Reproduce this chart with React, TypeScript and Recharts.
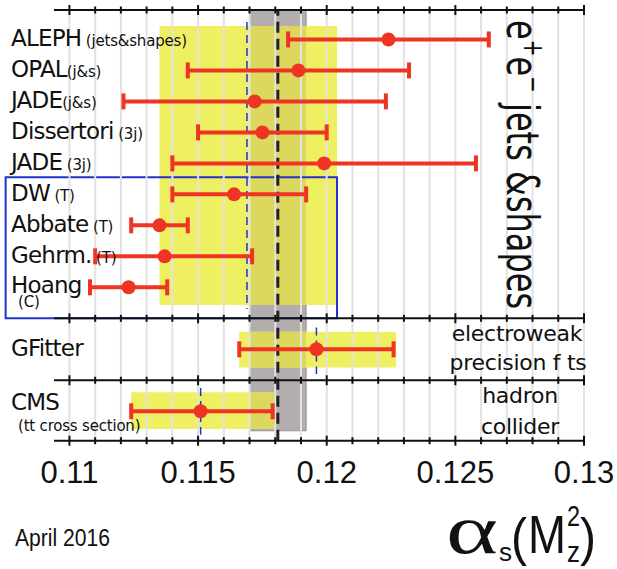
import { ScatterChart, Scatter, XAxis, YAxis, ErrorBar, ReferenceArea, ReferenceLine } from "recharts";

// alpha_s(Mz^2) determinations
const NAMES = ["ALEPH", "OPAL", "JADE", "Dissertori", "JADE", "DW", "Abbate", "Gehrm.", "Hoang", "GFitter", "CMS"];
const TAGS = [" (jets&shapes)", "(j&s)", "(j&s)", " (3j)", " (3j)", " (T)", " (T)", " (T)", "(C)", "", "(tt cross section)"];
const CENTRAL = [0.1224, 0.1189, 0.1172, 0.1175, 0.1199, 0.1164, 0.1135, 0.1137, 0.1123, 0.1196, 0.1151];
const LOW = [0.1185, 0.1146, 0.1121, 0.115, 0.114, 0.114, 0.1124, 0.111, 0.1108, 0.1166, 0.1124];
const HIGH = [0.1263, 0.1232, 0.1223, 0.12, 0.1258, 0.1192, 0.1146, 0.1171, 0.1138, 0.1226, 0.1179];
const ROWS = [1, 2, 3, 4, 5, 6, 7, 8, 9, 11, 13];

// world average band
const WORLD_AVG = 0.1181;
const WORLD_ERR = 0.0011;

// per-category averages: e+e- jets&shapes, electroweak fits, hadron collider
const GROUP_LOW = [0.1135, 0.1166, 0.1124];
const GROUP_HIGH = [0.1204, 0.1227, 0.118];
const GROUP_REF = [0.1169, 0.1196, 0.1151];

const MAJOR_TICKS = [0.11, 0.115, 0.12, 0.125, 0.13];
const ALL_TICKS = [
  0.11, 0.111, 0.112, 0.113, 0.114, 0.115, 0.116, 0.117, 0.118, 0.119, 0.12,
  0.121, 0.122, 0.123, 0.124, 0.125, 0.126, 0.127, 0.128, 0.129, 0.13,
];

const RED = "#ee3424";
const YELLOW = "#eef061";
const GREY = "#b3adad";
const OVERLAP = "#dbd85d";
const BLUE = "#2233cc";

// row extents of the three panels (layout)
const BAND_Y: [number, number][] = [[0.57, 9.57], [10.43, 11.59], [12.39, 13.57]];
const REF_Y: [number, number][] = [[0.44, 9.7], [10.3, 11.8], [12.25, 13.76]];
const AXIS_ROWS = [0.05, 10, 12, 13.95];
const WRAP = ["Hoang", "CMS"];

const points = NAMES.map((name, i) => ({
  name,
  tag: TAGS[i],
  x: CENTRAL[i],
  y: ROWS[i],
  err: [CENTRAL[i] - LOW[i], HIGH[i] - CENTRAL[i]],
}));

const tickMarks = AXIS_ROWS.flatMap((r) =>
  ALL_TICKS.map((v) => ({ x: v, y: r, major: MAJOR_TICKS.includes(v) }))
);

const font = "DejaVu Sans";

// row label, pinned to the left edge at the row's y
function RowLabel(props: any) {
  const { name, tag } = props.payload;
  const y = props.cy;
  const wrap = WRAP.includes(name);
  const dy = wrap ? (name === "CMS" ? -1 : 6) : 7;
  return (
    <g>
      <text x={11} y={y + dy} fontFamily={font} fontSize={23} letterSpacing={-0.8} fill="#111" style={{ whiteSpace: "pre" }}>
        {name}
        {!wrap && tag && (
          <tspan fontSize={15} letterSpacing={-0.2}>{tag}</tspan>
        )}
      </text>
      {wrap && (
        <text x={18} y={y + 20} fontFamily={font} fontSize={15} letterSpacing={-0.2} fill="#111">
          {tag}
        </text>
      )}
    </g>
  );
}

function AlphaTick(props: any) {
  return (
    <text x={props.x} y={props.y + 42} textAnchor="middle" fontFamily="Liberation Sans" fontSize={31} fill="#111">
      {String(props.payload.value)}
    </text>
  );
}

function TickMark(props: any) {
  const h = props.payload.major ? 5 : 3.5;
  return <line x1={props.cx} x2={props.cx} y1={props.cy - h} y2={props.cy + h} stroke="#111" strokeWidth={2} />;
}

function Dot(props: any) {
  return <circle cx={props.cx} cy={props.cy} r={7} fill={RED} />;
}

export default function App() {
  const gLow = WORLD_AVG - WORLD_ERR;
  const gHigh = WORLD_AVG + WORLD_ERR;
  return (
    <div style={{ position: "absolute", left: 0, top: 0, width: 617, height: 569, background: "#fff" }}>
      <ScatterChart width={617} height={569} margin={{ top: 10, right: 33, bottom: 88.3, left: 54 }}>
        <XAxis
          type="number"
          dataKey="x"
          domain={[0.1094, 0.13]}
          ticks={MAJOR_TICKS}
          interval={0}
          axisLine={false}
          tickLine={false}
          tickSize={0}
          tickMargin={0}
          height={40}
          tick={<AlphaTick />}
        />
        <YAxis type="number" dataKey="y" domain={[0.05, 13.95]} reversed hide />

        <ReferenceArea x1={gLow} x2={gHigh} y1={0.05} y2={13.63} fill={GREY} fillOpacity={1} stroke="#9a9494" strokeWidth={1} />
        {GROUP_LOW.map((lo, i) => (
          <ReferenceArea key={"y" + i} x1={lo} x2={GROUP_HIGH[i]} y1={BAND_Y[i][0]} y2={BAND_Y[i][1]} fill={YELLOW} fillOpacity={1} />
        ))}
        {GROUP_LOW.map((lo, i) => (
          <ReferenceArea
            key={"o" + i}
            x1={Math.max(lo, gLow)}
            x2={Math.min(GROUP_HIGH[i], gHigh)}
            y1={BAND_Y[i][0]}
            y2={BAND_Y[i][1]}
            fill={OVERLAP}
            fillOpacity={1}
          />
        ))}
        {ALL_TICKS.map((v) => (
          <ReferenceLine key={"g" + v} x={v} stroke="#e2e2e2" strokeWidth={2} />
        ))}
        {GROUP_REF.map((v, i) => (
          <ReferenceLine
            key={"r" + i}
            segment={[{ x: v, y: REF_Y[i][0] }, { x: v, y: REF_Y[i][1] }]}
            stroke={BLUE}
            strokeWidth={1.5}
            strokeDasharray="8 5"
          />
        ))}
        <ReferenceLine x={WORLD_AVG} stroke="#222" strokeWidth={3} strokeDasharray="11 6" />
        {AXIS_ROWS.map((r) => (
          <ReferenceLine key={"a" + r} y={r} stroke="#111" strokeWidth={2} />
        ))}
        <ReferenceArea
          x1={0.10752}
          x2={GROUP_HIGH[0]}
          y1={5.45}
          y2={10}
          fill="none"
          fillOpacity={0}
          stroke={BLUE}
          strokeWidth={2}
          ifOverflow="visible"
        />

        <Scatter data={tickMarks} shape={<TickMark />} isAnimationActive={false} />
        <Scatter data={points} shape={<RowLabel />} isAnimationActive={false} />
        <Scatter data={points} shape={<Dot />} isAnimationActive={false}>
          <ErrorBar dataKey="err" direction="x" width={8} strokeWidth={4} stroke={RED} />
        </Scatter>
      </ScatterChart>

      <svg width={617} height={569} style={{ position: "absolute", left: 0, top: 0, pointerEvents: "none" }}>
        <text transform="translate(507,20) rotate(90) scale(1,1.4)" fontFamily={font} fontSize={32} fill="#111" style={{ whiteSpace: "pre" }}>
          e<tspan fontSize={20} dy={-12}>+</tspan>
          <tspan dy={12}>e</tspan>
          <tspan fontSize={20} dy={-12}>−</tspan>
          <tspan dy={12}> jets &amp;shapes</tspan>
        </text>
        <g fontFamily={font} fontSize={22} fill="#111" textAnchor="middle" letterSpacing={-0.3}>
          <text x={517} y={341}>electroweak</text>
          <text x={518} y={370}>precision f ts</text>
          <text x={520} y={403}>hadron</text>
          <text x={520} y={434}>collider</text>
        </g>
        <text x={15} y={546} fontFamily="Liberation Sans" fontSize={23} textLength={95} lengthAdjust="spacingAndGlyphs" fill="#111">
          April 2016
        </text>
        <g fill="#111">
          <text x={446} y={553} fontFamily="Liberation Serif" fontSize={70} textLength={52} lengthAdjust="spacingAndGlyphs">α</text>
          <text x={499} y={561} fontFamily="Liberation Sans" fontSize={26}>s</text>
          <text x={511} y={555} fontFamily="Liberation Sans" fontSize={52} textLength={16} lengthAdjust="spacingAndGlyphs">(</text>
          <text x={528} y={553} fontFamily="Liberation Sans" fontSize={54} textLength={38} lengthAdjust="spacingAndGlyphs">M</text>
          <text x={567} y={526} fontFamily="Liberation Sans" fontSize={29} textLength={13} lengthAdjust="spacingAndGlyphs">2</text>
          <text x={567} y={562} fontFamily="Liberation Sans" fontSize={29} textLength={13} lengthAdjust="spacingAndGlyphs">z</text>
          <text x={580} y={555} fontFamily="Liberation Sans" fontSize={52} textLength={16} lengthAdjust="spacingAndGlyphs">)</text>
        </g>
      </svg>
    </div>
  );
}
